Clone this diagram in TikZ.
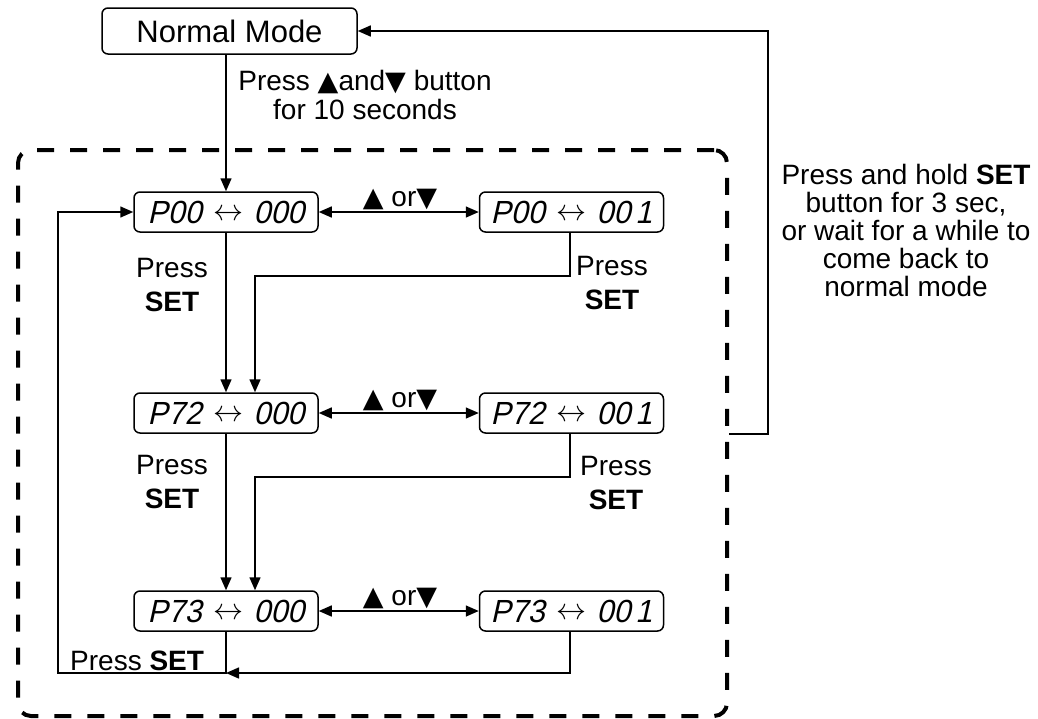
\documentclass[tikz,border=0pt]{standalone}
\usepackage{graphicx}
\usepackage{fontspec}
\setmainfont{Liberation Sans}
\newfontfamily\symfont{DejaVu Sans}
\newfontfamily\segfont{Liberation Sans}[FakeStretch=0.95, FakeSlant=0.22]
\usetikzlibrary{arrows.meta}
\begin{document}
\begin{tikzpicture}[x=1pt,y=-1pt,
  lbl/.style={font=\fontsize{28}{29}\selectfont, inner sep=0pt, align=center},
  modebox/.style={draw, line width=1.5pt, rounded corners=6pt, minimum width=255pt, minimum height=46pt, inner sep=0pt, font=\fontsize{31}{31}\selectfont},
  segbox/.style={draw, line width=1.5pt, rounded corners=6pt, minimum width=184pt, minimum height=40pt, inner sep=0pt, font=\fontsize{32}{32}\selectfont\segfont},
  conn/.style={line width=1.5pt},
  arr/.style={conn, -{Triangle[length=13pt,width=11pt]}},
  darr/.style={conn, {Triangle[length=13pt,width=11pt]}-{Triangle[length=13pt,width=11pt]}},
  frame/.style={draw, line width=4pt, dash pattern=on 17pt off 16pt, rounded corners=13pt, minimum width=709pt, minimum height=566pt, inner sep=0pt}]
\useasboundingbox (0,0) rectangle (1038,718);

\node[frame] (fr) at (372.5,433) {};

\node[modebox] (nm) at (229.5,31) {Normal Mode};

\newcommand\segtxt[2]{#1\hspace{12pt}\raisebox{3pt}{\resizebox{30pt}{!}{$\leftrightarrow$}}\hspace{10pt}#2}
\newcommand\tri[1]{{\symfont\fontsize{27}{27}\selectfont #1}}
\node[segbox] (a0) at (226,212) {\segtxt{P00}{000}};
\node[segbox] (b0) at (571.5,212) {\segtxt{P00}{00\hspace{5pt}1}};
\node[segbox] (a1) at (226,413) {\segtxt{P72}{000}};
\node[segbox] (b1) at (571.5,413) {\segtxt{P72}{00\hspace{5pt}1}};
\node[segbox] (a2) at (226,611) {\segtxt{P73}{000}};
\node[segbox] (b2) at (571.5,611) {\segtxt{P73}{00\hspace{5pt}1}};

% labels
\node[lbl] (t0) at (365,95) {Press \tri{▲}and\tri{▼} button\\for 10 seconds};
\node[lbl] (u0) at (400,199) {\tri{▲} or\tri{▼}};
\node[lbl] (u1) at (400,400) {\tri{▲} or\tri{▼}};
\node[lbl] (u2) at (400,598) {\tri{▲} or\tri{▼}};
\node[lbl] (p0l) at (172,285) {Press\\[5pt]\textbf{SET}};
\node[lbl] (p0r) at (612,283) {Press\\[5pt]\textbf{SET}};
\node[lbl] (p1l) at (172,482) {Press\\[5pt]\textbf{SET}};
\node[lbl] (p1r) at (616,483) {Press\\[5pt]\textbf{SET}};
\node[lbl, anchor=south west] (p2) at (70,671) {Press \textbf{SET}};
\node[lbl, font=\fontsize{28}{28}\selectfont] (rt) at (906,230) {Press and hold \textbf{SET}\\button for 3 sec,\\or wait for a while to\\come back to\\normal mode};

% connectors
\draw[arr] (a0.north |- nm.south) -- (a0.north);
\draw[darr] (a0.east) -- (b0.west);
\draw[darr] (a1.east) -- (b1.west);
\draw[darr] (a2.east) -- (b2.west);
\draw[arr] (a0.south) -- (a1.north);
\draw[arr] ([xshift=-1.5pt]b0.south) |- (255,276) -- ([xshift=29pt]a1.north);
\draw[arr] (a1.south) -- (a2.north);
\draw[arr] ([xshift=-1.5pt]b1.south) |- (255,477) -- ([xshift=29pt]a2.north);
\draw[arr] ([xshift=-1.5pt]b2.south) |- (a2.south |- 0,673);
\draw[arr] (a2.south) |- (58,673) |- (a0.west);
\draw[arr] (fr.east |- a1.south) -| (768,31) -- (nm.east);
\end{tikzpicture}
\end{document}
